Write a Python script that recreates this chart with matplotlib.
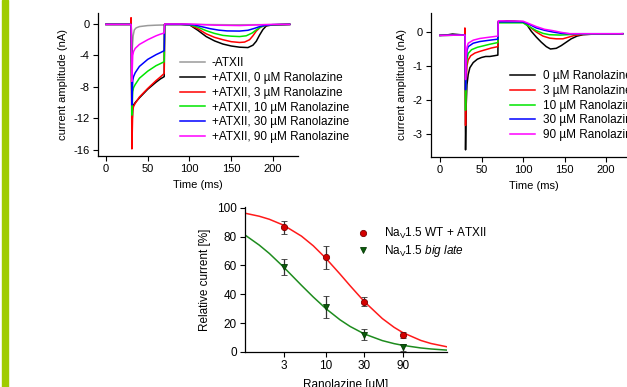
"""Late Na current traces and Ranolazine dose-response."""
import matplotlib

matplotlib.use("Agg")  # headless
import matplotlib.pyplot as plt  # noqa: E402
from matplotlib.patches import Rectangle  # noqa: E402

plt.rcParams["font.family"] = ["Liberation Sans", "DejaVu Sans"]
plt.rcParams["axes.unicode_minus"] = False
plt.rcParams["mathtext.fontset"] = "custom"
plt.rcParams["mathtext.rm"] = "Liberation Sans"
plt.rcParams["mathtext.it"] = "Liberation Sans:italic"

# ---- panel A: Nav1.5 WT, -ATXII / +ATXII with Ranolazine (time ms, current nA)
a_t_gray = [0, 29.8, 30.2, 31, 31.6, 32.5, 33.9, 36, 40, 50, 60, 70, 70.3, 100, 150, 200, 220]
a_i_gray = [-0.05, -0.05, -0.1, -4.0, -2.9, -1.5, -0.76, -0.5, -0.33, -0.2, -0.15, -0.12,
            -0.05, -0.05, -0.1, -0.08, -0.05]

a_t_black = [0, 29.8, 30.2, 31, 32, 33, 35, 40, 45, 50, 55, 60, 65, 69.7, 70.2, 90, 100, 110,
             120, 130, 140, 150, 160, 170, 176, 180, 184, 188, 192, 200, 220]
a_i_black = [-0.05, -0.05, -0.1, -13.0, -10.8, -10.3, -10.0, -9.4, -8.85, -8.3, -7.85, -7.4,
             -7.0, -6.7, -0.05, -0.05, -0.1, -0.8, -1.6, -2.15, -2.55, -2.8, -2.95, -3.0,
             -2.7, -2.2, -1.4, -0.7, -0.25, -0.1, -0.05]

a_t_red = [0, 29.8, 30, 30.2, 31, 32, 33, 35, 40, 45, 50, 55, 60, 65, 69.7, 70.2, 90, 100,
           110, 120, 130, 140, 150, 160, 166, 172, 176, 180, 185, 190, 200, 220]
a_i_red = [-0.05, -0.05, 0.8, -0.1, -15.9, -11.0, -10.5, -10.1, -9.3, -8.75, -8.2, -7.7,
           -7.2, -6.75, -6.3, -0.05, -0.05, -0.1, -0.6, -1.25, -1.7, -2.0, -2.25, -2.35,
           -2.3, -2.0, -1.5, -0.9, -0.4, -0.2, -0.1, -0.05]

a_t_green = [0, 29.8, 30.2, 31, 32, 33, 35, 40, 45, 50, 55, 60, 65, 69.7, 70.2, 90, 100,
             110, 120, 130, 140, 150, 160, 168, 175, 180, 186, 192, 200, 220]
a_i_green = [-0.05, -0.05, -0.1, -11.6, -8.6, -8.1, -7.7, -6.9, -6.45, -6.0, -5.65, -5.3,
             -5.05, -4.8, -0.05, -0.05, -0.1, -0.4, -0.85, -1.2, -1.45, -1.55, -1.6, -1.5,
             -1.15, -0.75, -0.35, -0.15, -0.1, -0.05]

a_t_blue = [0, 29.8, 30.2, 31, 32, 33, 35, 40, 45, 50, 55, 60, 65, 69.7, 70.2, 90, 105,
            115, 125, 135, 145, 160, 170, 178, 185, 192, 200, 220]
a_i_blue = [-0.05, -0.05, -0.1, -10.3, -7.2, -6.7, -6.2, -5.4, -4.95, -4.5, -4.2, -3.9,
            -3.65, -3.4, -0.05, -0.05, -0.1, -0.35, -0.6, -0.78, -0.88, -0.9, -0.8, -0.55,
            -0.3, -0.15, -0.08, -0.05]

a_t_pink = [0, 29.8, 30.2, 31, 32, 33, 35, 40, 45, 50, 55, 60, 65, 69.7, 70.2, 100, 130,
            160, 185, 200, 220]
a_i_pink = [-0.05, -0.05, -0.1, -7.3, -4.0, -3.5, -3.1, -2.6, -2.3, -2.0, -1.75, -1.5,
            -1.3, -1.15, 0.0, 0.0, -0.15, -0.2, -0.1, -0.05, -0.05]

a_labels = ["-ATXII", "+ATXII, 0 \u00b5M Ranolazine", "+ATXII, 3 \u00b5M Ranolazine",
            "+ATXII, 10 \u00b5M Ranolazine", "+ATXII, 30 \u00b5M Ranolazine",
            "+ATXII, 90 \u00b5M Ranolazine"]

# ---- panel B: Nav1.5 big late with Ranolazine (time ms, current nA)
b_t_black = [0, 10, 15, 29.8, 30.2, 30.8, 31.5, 32.5, 34, 36, 40, 45, 50, 55, 60, 65, 69.7,
             70.2, 80, 90, 100, 105, 110, 116, 122, 128, 133, 140, 146, 152, 158, 165, 172,
             185, 200, 220]
b_i_black = [-0.1, -0.08, -0.06, -0.09, -0.09, -3.47, -2.2, -1.55, -1.25, -1.05, -0.9, -0.8,
             -0.75, -0.72, -0.72, -0.7, -0.68, 0.3, 0.33, 0.32, 0.3, 0.2, 0.02, -0.15, -0.3,
             -0.43, -0.5, -0.48, -0.4, -0.3, -0.2, -0.12, -0.08, -0.06, -0.06, -0.05]

b_t_red = [0, 29.8, 30, 30.2, 30.8, 31.5, 32.5, 34, 37, 42, 48, 55, 62, 69.7, 70.2, 100, 108,
           116, 124, 132, 140, 148, 155, 162, 172, 220]
b_i_red = [-0.1, -0.09, 0.12, -0.09, -2.75, -1.5, -1.0, -0.82, -0.7, -0.62, -0.57, -0.52,
           -0.47, -0.43, 0.3, 0.3, 0.15, 0.0, -0.12, -0.18, -0.2, -0.2, -0.15, -0.1, -0.07,
           -0.05]

b_t_green = [0, 29.8, 30.2, 30.8, 31.5, 32.5, 34, 38, 45, 50, 60, 69.7, 70.2, 100, 108, 116,
             124, 132, 145, 160, 220]
b_i_green = [-0.1, -0.09, -0.09, -2.3, -1.2, -0.8, -0.63, -0.52, -0.45, -0.42, -0.36, -0.31,
             0.27, 0.27, 0.15, 0.04, -0.04, -0.08, -0.09, -0.07, -0.05]

b_t_blue = [0, 29.8, 30.2, 30.8, 31.5, 32.5, 34, 40, 48, 60, 69.7, 70.2, 100, 108, 116, 126,
            136, 146, 156, 220]
b_i_blue = [-0.1, -0.09, -0.09, -1.7, -0.9, -0.55, -0.43, -0.33, -0.28, -0.24, -0.21, 0.3,
            0.3, 0.22, 0.12, 0.05, 0.0, -0.04, -0.05, -0.05]

b_t_pink = [0, 29.8, 30.2, 30.8, 31.5, 32.5, 34, 40, 48, 60, 69.7, 70.2, 100, 108, 116, 126,
            136, 146, 156, 220]
b_i_pink = [-0.1, -0.09, -0.09, -1.4, -0.7, -0.45, -0.33, -0.24, -0.19, -0.15, -0.12, 0.33,
            0.32, 0.24, 0.16, 0.08, 0.04, -0.01, -0.05, -0.05]

b_labels = ["0 \u00b5M Ranolazine", "3 \u00b5M Ranolazine", "10 \u00b5M Ranolazine",
            "30 \u00b5M Ranolazine", "90 \u00b5M Ranolazine"]

# ---- panel C: dose-response (Ranolazine uM, relative current %)
conc = [3, 10, 30, 90]
wt_mean = [86.5, 65.5, 35.0, 12.0]
wt_err = [4.5, 8.0, 3.0, 2.0]
bl_mean = [59.0, 31.0, 12.0, 3.2]
bl_err = [5.5, 7.7, 4.0, 2.5]
fit_conc = [1, 1.5, 2, 3, 5, 7, 10, 15, 20, 30, 50, 70, 90, 150, 200, 316]
wt_fit = [96.2, 94.1, 92.0, 87.9, 80.3, 73.6, 65.0, 54.0, 45.9, 34.9, 23.2, 17.1, 13.4,
          8.0, 5.9, 3.6]
bl_fit = [81.1, 74.1, 68.3, 58.9, 46.2, 38.1, 30.1, 22.3, 17.7, 12.5, 7.9, 5.8, 4.6, 2.8,
          2.1, 1.3]
c_labels = [r"Na$_\mathrm{V}$1.5 WT + ATXII", r"Na$_\mathrm{V}$1.5 $\mathit{big\ late}$"]

trace_colors = ["#000000", "#ff0000", "#00e600", "#0000ff", "#ff00ff"]
FS = 8
LFS = 8.5
W, H = 627, 387


def px_axes(left, top, right, bottom):
    return fig.add_axes([left / W, 1 - bottom / H, (right - left) / W, (bottom - top) / H])


def style(ax):
    for side in ("top", "right"):
        ax.spines[side].set_visible(False)
    for side in ("left", "bottom"):
        ax.spines[side].set_linewidth(0.9)
    ax.tick_params(direction="out", length=3.5, width=0.8, labelsize=FS, pad=2.5)


fig = plt.figure(figsize=(W / 100, H / 100), dpi=100)
fig.patches.append(Rectangle((1.5 / W, 0), 6 / W, 1, transform=fig.transFigure,
                             color="#9fcc00", zorder=0))

# panel A
ax = px_axes(98, 13, 298, 156)
ax.plot(a_t_gray, a_i_gray, color="#9a9a9a", lw=1.1, label=a_labels[0])
for t, i, c, lab in zip([a_t_black, a_t_red, a_t_green, a_t_blue, a_t_pink],
                        [a_i_black, a_i_red, a_i_green, a_i_blue, a_i_pink],
                        trace_colors, a_labels[1:]):
    ax.plot(t, i, color=c, lw=1.1, label=lab)
ax.set_xlim(-9.6, 230)
ax.set_ylim(-16.8, 1.4)
ax.set_xticks([0, 50, 100, 150, 200])
ax.set_yticks([0, -4, -8, -12, -16])
ax.set_xlabel("Time (ms)", fontsize=FS, labelpad=4)
ax.set_ylabel("current amplitude (nA)", fontsize=FS, labelpad=4)
style(ax)
ax.legend(loc="upper left", bbox_to_anchor=(180 / W, 1 - 57 / H), bbox_transform=fig.transFigure,
          frameon=False, fontsize=LFS, handlelength=2.1, handletextpad=0.6, labelspacing=0.24,
          borderpad=0, borderaxespad=0)

# panel B
ax = px_axes(431, 13, 636, 157)
for t, i, c, lab in zip([b_t_black, b_t_red, b_t_green, b_t_blue, b_t_pink],
                        [b_i_black, b_i_red, b_i_green, b_i_blue, b_i_pink],
                        trace_colors, b_labels):
    ax.plot(t, i, color=c, lw=1.1, label=lab)
ax.set_xlim(-10.8, 236)
ax.set_ylim(-3.68, 0.56)
ax.set_xticks([0, 50, 100, 150, 200])
ax.set_yticks([0, -1, -2, -3])
ax.set_xlabel("Time (ms)", fontsize=FS, labelpad=4)
ax.set_ylabel("current amplitude (nA)", fontsize=FS, labelpad=4)
style(ax)
ax.legend(loc="upper left", bbox_to_anchor=(510 / W, 1 - 70 / H), bbox_transform=fig.transFigure,
          frameon=False, fontsize=LFS, handlelength=2.1, handletextpad=0.7, labelspacing=0.24,
          borderpad=0, borderaxespad=0)

# panel C
ax = px_axes(245, 207, 447, 352)
ax.set_xscale("log")
ax.plot(fit_conc, wt_fit, color="#ff1a1a", lw=1.1)
ax.plot(fit_conc, bl_fit, color="#1e8c1e", lw=1.1)
ax.errorbar(conc, wt_mean, yerr=wt_err, fmt="o", color="#d40000", mec="#7a0000", mew=0.6,
            ms=4.5, ecolor="#333333", elinewidth=0.9, capsize=2.2, capthick=0.9,
            label=c_labels[0], zorder=3)
ax.errorbar(conc, bl_mean, yerr=bl_err, fmt="v", color="#0b5d0b", mec="#053a05", mew=0.6,
            ms=4.5, ecolor="#333333", elinewidth=0.9, capsize=2.2, capthick=0.9,
            label=c_labels[1], zorder=3)
ax.set_xlim(1, 316)
ax.set_ylim(0, 100.5)
ax.set_xticks(conc)
ax.set_xticklabels([str(c) for c in conc])
ax.xaxis.set_minor_locator(matplotlib.ticker.NullLocator())
ax.set_yticks([0, 20, 40, 60, 80, 100])
ax.set_xlabel("Ranolazine [uM]", fontsize=FS + 0.5, labelpad=5)
ax.set_ylabel("Relative current [%]", fontsize=FS + 0.5, labelpad=4)
style(ax)
ax.tick_params(labelsize=FS + 0.5)
handles, labels = ax.get_legend_handles_labels()
ax.legend([h[0] for h in handles], labels, loc="upper left",
          bbox_to_anchor=(357 / W, 1 - 226 / H), bbox_transform=fig.transFigure,
          frameon=False, fontsize=LFS, handlelength=1.0, handletextpad=1.3, labelspacing=0.2,
          borderpad=0, borderaxespad=0, numpoints=1)

fig.savefig("out.png", dpi=100)
plt.close(fig)
